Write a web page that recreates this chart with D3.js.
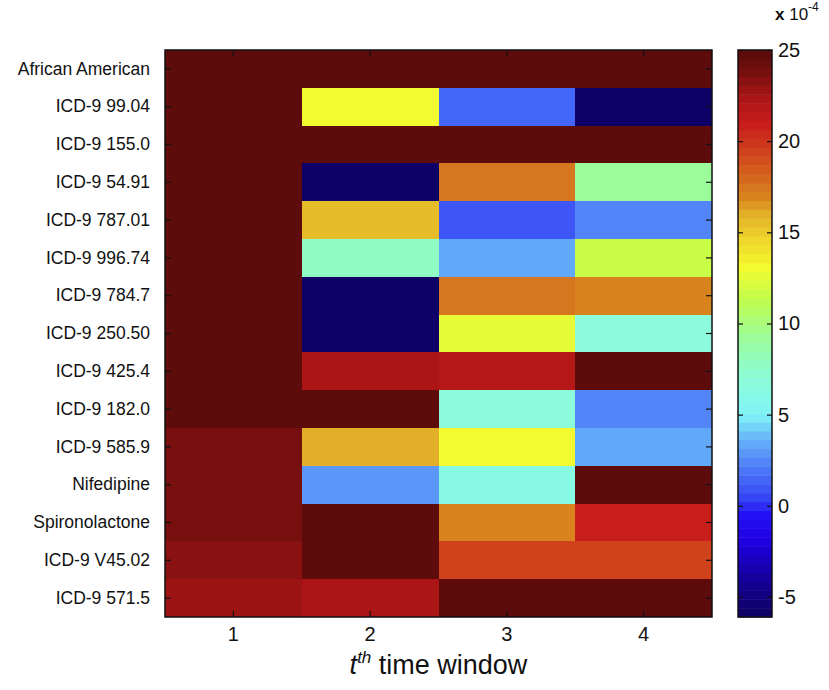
<!DOCTYPE html>
<html>
<head>
<meta charset="utf-8">
<script src="https://cdn.jsdelivr.net/npm/d3@7"></script>
<style>
  body { margin: 0; background: #fff; }
  text { font-family: "Liberation Sans", Arial, Helvetica, sans-serif; fill: #111; }
</style>
</head>
<body>
<svg id="chart"></svg>
<script>
// row labels, top to bottom
const features = [
  "African American", "ICD-9 99.04", "ICD-9 155.0", "ICD-9 54.91", "ICD-9 787.01",
  "ICD-9 996.74", "ICD-9 784.7", "ICD-9 250.50", "ICD-9 425.4", "ICD-9 182.0",
  "ICD-9 585.9", "Nifedipine", "Spironolactone", "ICD-9 V45.02", "ICD-9 571.5"
];
const windows = [1, 2, 3, 4];

// values in units of 1e-4, one array per time window (clipped at 25 by the colour map)
const window1 = [28, 27, 27, 27, 27, 27, 27, 27, 27, 27, 24.0, 23.6, 23.6, 23.2, 22.8];
const window2 = [28, 13.2, 27, -5.8, 15.3, 7.6, -5.8, -5.8, 22.5, 25.5, 15.8, 3.0, 25.5, 25.5, 22.5];
const window3 = [28, 1.6, 27, 17.6, 0.8, 3.6, 17.7, 12.4, 21.8, 7.0, 13.3, 6.3, 16.8, 19.3, 25.5];
const window4 = [28, -5.8, 27, 9.0, 2.4, 11.6, 17.0, 7.0, 26, 2.4, 3.6, 25.5, 21.0, 19.6, 25.5];

const colorTicks = [-5, 0, 5, 10, 15, 20, 25];
const colorDomain = [-6.1, 25];

const width = 829, height = 690;
const margin = { top: 50, left: 165, right: 117, bottom: 73 };
const iwidth = width - margin.left - margin.right;
const iheight = height - margin.top - margin.bottom;

const svg = d3.select("#chart").attr("width", width).attr("height", height);

// jet-like colour map as it appears in the figure
const stops = [
  [-6.1, "#0e0060"], [-4, "#16009a"], [-2, "#1e00e0"], [-0.5, "#2410f4"], [0.5, "#3848f4"],
  [2, "#4c78f8"], [3.5, "#64acf8"], [5, "#80f4f8"], [7, "#8cfcd8"], [9, "#98fca0"],
  [11.5, "#c4fc48"], [13, "#f4fc30"], [14.5, "#f0d82c"], [16, "#e2b028"], [17, "#d8821e"],
  [18, "#d4681e"], [19.5, "#d0401c"], [21, "#c81c1c"], [22.5, "#a81414"], [24, "#700e0e"],
  [25, "#580a0c"]
];
const cmap = d3.scaleLinear()
  .domain(stops.map(s => s[0]))
  .range(stops.map(s => s[1]))
  .clamp(true);

// 64 discrete levels like a MATLAB colormap
const nLevels = 64;
const levelStep = (colorDomain[1] - colorDomain[0]) / nLevels;
const levels = d3.range(nLevels).map(i => colorDomain[0] + (i + 0.5) * levelStep);
const color = v => {
  const c = Math.max(colorDomain[0], Math.min(colorDomain[1], v));
  const i = Math.min(nLevels - 1, Math.floor((c - colorDomain[0]) / levelStep));
  return cmap(levels[i]);
};

const cells = [];
[window1, window2, window3, window4].forEach((arr, j) => {
  arr.forEach((v, i) => cells.push({ feature: features[i], win: windows[j], value: v }));
});

const x = d3.scaleBand().domain(windows).range([0, iwidth]);
const y = d3.scaleBand().domain(features).range([0, iheight]);

const g = svg.append("g").attr("transform", `translate(${margin.left},${margin.top})`);

g.selectAll("rect.cell").data(cells).enter().append("rect")
  .attr("class", "cell")
  .attr("x", d => Math.round(x(d.win)))
  .attr("y", d => Math.round(y(d.feature)))
  .attr("width", d => Math.round(x(d.win) + x.bandwidth()) - Math.round(x(d.win)))
  .attr("height", d => Math.round(y(d.feature) + y.bandwidth()) - Math.round(y(d.feature)))
  .attr("shape-rendering", "crispEdges")
  .attr("fill", d => color(d.value));

// axes with inward ticks on all sides
const xb = g.append("g").attr("transform", `translate(0,${iheight})`)
  .call(d3.axisBottom(x).tickSizeInner(-6).tickSizeOuter(0).tickPadding(10));
const xt = g.append("g")
  .call(d3.axisTop(x).tickSizeInner(-6).tickSizeOuter(0).tickFormat(""));
const yl = g.append("g")
  .call(d3.axisLeft(y).tickSizeInner(-6).tickSizeOuter(0).tickPadding(15));
const yr = g.append("g").attr("transform", `translate(${iwidth},0)`)
  .call(d3.axisRight(y).tickSizeInner(-6).tickSizeOuter(0).tickFormat(""));

[xb, xt, yl, yr].forEach(a => {
  a.select(".domain").remove();
  a.selectAll("line").attr("stroke", "#111").attr("stroke-width", 1.2);
});
xb.selectAll("text").attr("font-size", 20).style("font-family", "Liberation Sans, Arial, sans-serif").attr("fill", "#111");
yl.selectAll("text").attr("font-size", 17.5).style("font-family", "Liberation Sans, Arial, sans-serif").attr("fill", "#111");

g.append("rect")
  .attr("width", iwidth).attr("height", iheight)
  .attr("fill", "none").attr("stroke", "#111").attr("stroke-width", 1.5);

// x title
const title = svg.append("text")
  .attr("x", margin.left + iwidth / 2)
  .attr("y", 674)
  .attr("text-anchor", "middle")
  .attr("font-size", 27);
title.append("tspan").attr("font-style", "italic").text("t");
title.append("tspan").attr("font-style", "italic").attr("font-size", 17).attr("dy", -11).text("th");
title.append("tspan").attr("dy", 11).text(" time window");

// colour bar
const cb = { x: 738, w: 34 };
const cy = d3.scaleLinear().domain(colorDomain).range([margin.top + iheight, margin.top]);

const cbg = svg.append("g");
cbg.selectAll("rect").data(levels).enter().append("rect")
  .attr("x", cb.x)
  .attr("y", d => cy(d + levelStep / 2))
  .attr("width", cb.w)
  .attr("height", Math.abs(cy(0) - cy(levelStep)) + 0.5)
  .attr("fill", d => cmap(d));

const cba = cbg.append("g").attr("transform", `translate(${cb.x + cb.w},0)`)
  .call(d3.axisRight(cy).tickValues(colorTicks).tickFormat(d => String(d))
    .tickSizeInner(-5).tickSizeOuter(0).tickPadding(6));
const cbl = cbg.append("g").attr("transform", `translate(${cb.x},0)`)
  .call(d3.axisLeft(cy).tickValues(colorTicks).tickSizeInner(-5).tickSizeOuter(0).tickFormat(""));
[cba, cbl].forEach(a => {
  a.select(".domain").remove();
  a.selectAll("line").attr("stroke", "#111").attr("stroke-width", 1.2);
});
cba.selectAll("text").attr("font-size", 20).style("font-family", "Liberation Sans, Arial, sans-serif").attr("fill", "#111");

cbg.append("rect")
  .attr("x", cb.x).attr("y", margin.top)
  .attr("width", cb.w).attr("height", iheight)
  .attr("fill", "none").attr("stroke", "#111").attr("stroke-width", 1.5);

// exponent label
const expo = svg.append("text").attr("x", 775).attr("y", 20).attr("font-size", 17);
expo.append("tspan").attr("font-weight", "bold").text("x");
expo.append("tspan").text(" 10");
expo.append("tspan").attr("font-size", 12).attr("dy", -9).text("-4");
</script>
</body>
</html>
